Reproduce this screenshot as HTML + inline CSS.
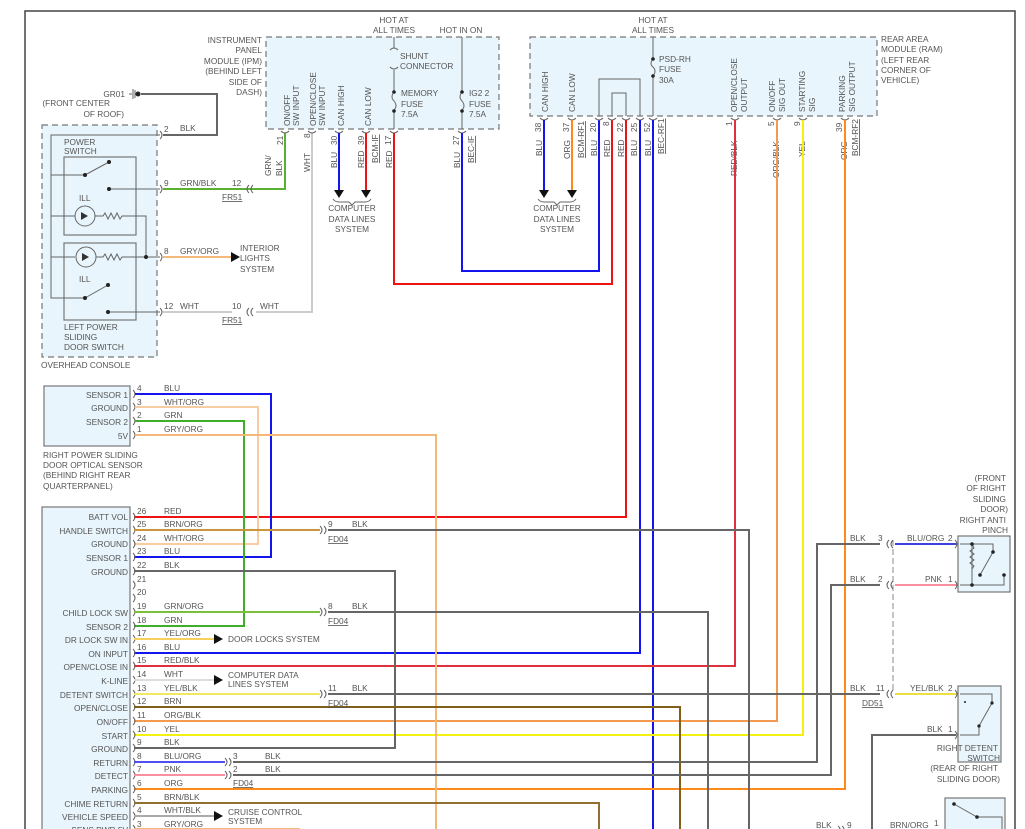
<!DOCTYPE html>
<html><head><meta charset="utf-8">
<style>
html,body{margin:0;padding:0;background:#fff;}
svg{display:block;font-family:"Liberation Sans",sans-serif;}
text{font-size:8.3px;fill:#555;}
.r{text-anchor:end}
.m{text-anchor:middle}
.g{stroke:#666;stroke-width:2;fill:none}
.k{stroke:#555;stroke-width:1.2;fill:none}
.box{fill:#e8f5fc;stroke:#777;stroke-width:1.2}
.dbox{fill:#e8f5fc;stroke:#777;stroke-width:1.2;stroke-dasharray:6,4}
.w{stroke-width:2;fill:none}
.c{stroke:#666;stroke-width:1;fill:none}
</style></head><body>
<svg width="1025" height="829" viewBox="0 0 1025 829">
<!-- frame -->
<path d="M25,829 V11 H1015 V829" stroke="#444" stroke-width="1.5" fill="none"/>

<!-- OVERHEAD CONSOLE -->
<rect x="42" y="125" width="115" height="232" class="dbox"/>
<text x="41" y="368">OVERHEAD CONSOLE</text>
<rect x="64" y="157" width="72" height="78" class="box"/>
<rect x="64" y="243" width="72" height="77" class="box"/>
<text x="64" y="145">POWER</text><text x="64" y="154">SWITCH</text>
<text x="79" y="201">ILL</text><text x="79" y="282">ILL</text>
<text x="64" y="330">LEFT POWER</text><text x="64" y="340">SLIDING</text><text x="64" y="350">DOOR SWITCH</text>
<path class="c" d="M160,135 H51 V298 H85 M51,175 H85 M51,216 H75 M51,257 H75"/>
<path class="c" d="M85,175 L109,162 M109,189 H160 M85,298 L108,285 M108,312 H160"/>
<circle cx="85" cy="216" r="10" class="c"/><circle cx="86" cy="257" r="10" class="c"/>
<path class="c" d="M95,216 H103 l2,-3 l3,6 l3,-6 l3,6 l3,-6 l3,6 l2,-3 H146 V257 H160 M96,257 H103 l2,-3 l3,6 l3,-6 l3,6 l3,-6 l3,6 l2,-3 H146"/>
<path d="M81,212 v8 l7,-4z M82,253 v8 l7,-4z" fill="#333"/>
<circle cx="85" cy="175" r="2" fill="#222"/><circle cx="109" cy="162" r="2" fill="#222"/><circle cx="109" cy="189" r="2" fill="#222"/>
<circle cx="85" cy="298" r="2" fill="#222"/><circle cx="108" cy="285" r="2" fill="#222"/><circle cx="108" cy="312" r="2" fill="#222"/>
<circle cx="146" cy="257" r="2" fill="#222"/>
<!-- console pins -->
<g class="c"><path d="M160,131 q4,4 0,8 M160,185 q4,4 0,8 M160,253 q4,4 0,8 M160,308 q4,4 0,8"/></g>
<text x="164" y="132">2</text><text x="164" y="186">9</text><text x="164" y="254">8</text><text x="164" y="309">12</text>
<!-- GR01 -->
<text x="125" y="97" class="r">GR01</text>
<text x="110" y="106" class="r">(FRONT CENTER</text><text x="124" y="117" class="r">OF ROOF)</text>
<path class="c" d="M129,94 h3 M133,89 v10 M135,90 v8"/><circle cx="138" cy="94" r="2.5" fill="#222"/>
<path class="g" d="M141,94 H217 V135 H163"/>
<text x="180" y="131">BLK</text>
<!-- GRN/BLK -->
<path class="w" stroke="#5ab031" d="M163,189 H285 V133"/>
<text x="180" y="186">GRN/BLK</text><text x="232" y="186">12</text>
<path class="c" d="M249,185 q-4,4 0,8 M253,185 q-4,4 0,8"/>
<text x="222" y="200" style="text-decoration:underline">FR51</text>
<!-- GRY/ORG -->
<path class="w" stroke="#f4b87a" d="M163,257 H232"/>
<path d="M231,252 v10 l9,-5z" fill="#111"/>
<text x="180" y="254">GRY/ORG</text>
<text x="240" y="251">INTERIOR</text><text x="240" y="261">LIGHTS</text><text x="240" y="272">SYSTEM</text>
<!-- WHT -->
<path class="w" stroke="#ccc" d="M163,312 H232 M256,312 H312 V133"/>
<text x="180" y="309">WHT</text><text x="232" y="309">10</text><text x="260" y="309">WHT</text>
<path class="c" d="M249,308 q-4,4 0,8 M253,308 q-4,4 0,8"/>
<text x="222" y="323" style="text-decoration:underline">FR51</text>
<text x="271" y="176" transform="rotate(-90 271 176)">GRN/</text>
<text x="282" y="176" transform="rotate(-90 282 176)">BLK</text>
<text x="310" y="172" transform="rotate(-90 310 172)">WHT</text>

<!-- IPM -->
<rect x="266" y="37" width="233" height="92" class="dbox"/>
<g class="r"><text x="262" y="43">INSTRUMENT</text><text x="262" y="53">PANEL</text><text x="262" y="64">MODULE (IPM)</text><text x="262" y="74">(BEHIND LEFT</text><text x="262" y="85">SIDE OF</text><text x="262" y="95">DASH)</text></g>
<text x="394" y="23" class="m">HOT AT</text><text x="394" y="33" class="m">ALL TIMES</text>
<text x="461" y="33" class="m">HOT IN ON</text>
<g transform="rotate(-90)">
<text x="-126" y="290">ON/OFF</text><text x="-126" y="299">SW INPUT</text>
<text x="-126" y="316">OPEN/CLOSE</text><text x="-126" y="325">SW INPUT</text>
<text x="-126" y="344">CAN HIGH</text><text x="-126" y="371">CAN LOW</text>
</g>
<path class="c" d="M394,37 V48 M390,50 q4,-4 8,0 M390,67 q4,4 8,0 M394,70 V92 M394,92 q-4,5 0,9 q4,5 0,9 M394,111 V129 M462,37 V92 q-4,5 0,9 q4,5 0,9 V129"/>
<circle cx="394" cy="92" r="1.8" fill="#222"/><circle cx="394" cy="111" r="1.8" fill="#222"/>
<circle cx="462" cy="92" r="1.8" fill="#222"/><circle cx="462" cy="111" r="1.8" fill="#222"/>
<text x="400" y="59">SHUNT</text><text x="400" y="69">CONNECTOR</text>
<text x="401" y="96">MEMORY</text><text x="401" y="107">FUSE</text><text x="401" y="117">7.5A</text>
<text x="469" y="96">IG2 2</text><text x="469" y="107">FUSE</text><text x="469" y="117">7.5A</text>
<path class="c" d="M281,131 q4,4 8,0 M308,131 q4,4 8,0 M335,131 q4,4 8,0 M362,131 q4,4 8,0 M390,131 q4,4 8,0 M458,131 q4,4 8,0"/>
<g transform="rotate(-90)">
<text x="-145" y="283">21</text><text x="-138" y="310">8</text><text x="-145" y="337">30</text><text x="-145" y="364">39</text><text x="-145" y="391">17</text><text x="-145" y="459">27</text>
<text x="-168" y="337">BLU</text><text x="-168" y="364">RED</text><text x="-168" y="392">RED</text><text x="-168" y="460">BLU</text>
<text x="-163" y="378" style="text-decoration:underline">BCM-IF</text>
<text x="-163" y="474" style="text-decoration:underline">BEC-IF</text>
</g>
<path class="w" stroke="#1414ee" d="M339,133 V190"/><path class="w" stroke="#ee1212" d="M366,133 V190"/>
<path d="M334,190 h10 l-5,8z M361,190 h10 l-5,8z" fill="#111"/>
<path class="c" d="M333,199 q2,3 6,3 h10 l3,3 l3,-3 h10 q4,0 6,-3"/>
<text x="352" y="211" class="m">COMPUTER</text><text x="352" y="222" class="m">DATA LINES</text><text x="352" y="232" class="m">SYSTEM</text>
<path class="w" stroke="#ee1212" d="M394,133 V284 H612 V120"/>
<path class="w" stroke="#1414ee" d="M462,133 V271 H599 V120"/>

<!-- RAM -->
<rect x="530" y="37" width="347" height="79" class="dbox"/>
<g><text x="881" y="42">REAR AREA</text><text x="881" y="52">MODULE (RAM)</text><text x="881" y="63">(LEFT REAR</text><text x="881" y="73">CORNER OF</text><text x="881" y="83">VEHICLE)</text></g>
<text x="653" y="23" class="m">HOT AT</text><text x="653" y="33" class="m">ALL TIMES</text>
<path class="c" d="M653,37 V59 q-4,5 0,8 q4,4 0,9 V116 M599,116 V79 H640 V116 M612,116 V93 H626 V116"/>
<circle cx="653" cy="59" r="1.8" fill="#222"/><circle cx="653" cy="76" r="1.8" fill="#222"/>
<text x="659" y="62">PSD-RH</text><text x="659" y="72">FUSE</text><text x="659" y="83">30A</text>
<g transform="rotate(-90)">
<text x="-112" y="548">CAN HIGH</text><text x="-112" y="575">CAN LOW</text>
<text x="-112" y="737">OPEN/CLOSE</text><text x="-112" y="747">OUTPUT</text>
<text x="-112" y="775">ON/OFF</text><text x="-112" y="785">SIG OUT</text>
<text x="-112" y="805">STARTING</text><text x="-112" y="815">SIG</text>
<text x="-112" y="845">PARKING</text><text x="-112" y="855">SIG OUTPUT</text>
</g>
<path class="c" d="M540,118 q4,4 8,0 M568,118 q4,4 8,0 M595,118 q4,4 8,0 M608,118 q4,4 8,0 M622,118 q4,4 8,0 M636,118 q4,4 8,0 M649,118 q4,4 8,0 M731,118 q4,4 8,0 M773,118 q4,4 8,0 M799,118 q4,4 8,0 M841,118 q4,4 8,0"/>
<g transform="rotate(-90)">
<text x="-132" y="541">38</text><text x="-132" y="569">37</text><text x="-132" y="596">20</text><text x="-126" y="609">8</text><text x="-132" y="623">22</text><text x="-132" y="637">25</text><text x="-132" y="650">52</text><text x="-126" y="732">1</text><text x="-126" y="774">5</text><text x="-126" y="800">9</text><text x="-132" y="842">39</text>
<text x="-156" y="542">BLU</text><text x="-159" y="570">ORG</text><text x="-156" y="597">BLU</text><text x="-157" y="610">RED</text><text x="-157" y="624">RED</text><text x="-156" y="637">BLU</text><text x="-156" y="651">BLU</text>
<text x="-176" y="737">RED/BLK</text><text x="-178" y="779">ORG/BLK</text><text x="-157" y="805">YEL</text><text x="-160" y="847">ORG</text>
<text x="-158" y="584" style="text-decoration:underline">BCM-RF1</text>
<text x="-154" y="664" style="text-decoration:underline">BEC-RF1</text>
<text x="-156" y="858" style="text-decoration:underline">BCM-RF2</text>
</g>
<path class="w" stroke="#1414ee" d="M544,120 V190"/><path class="w" stroke="#ff8a1c" d="M572,120 V190"/>
<path d="M539,190 h10 l-5,8z M567,190 h10 l-5,8z" fill="#111"/>
<path class="c" d="M538,199 q2,3 6,3 h10 l3,3 l3,-3 h10 q4,0 6,-3"/>
<text x="557" y="211" class="m">COMPUTER</text><text x="557" y="222" class="m">DATA LINES</text><text x="557" y="232" class="m">SYSTEM</text>

<!-- long wires -->
<path class="w" stroke="#ee1212" d="M626,120 V517 H134"/>
<path class="w" stroke="#1414ee" d="M640,120 V653 H134"/>
<path class="w" stroke="#1414ee" d="M653,120 V829"/>
<path class="w" stroke="#e03040" d="M735,120 V666 H134"/>
<path class="w" stroke="#f49a50" d="M777,120 V721 H134"/>
<path class="w" stroke="#f4f010" d="M803,120 V735 H134"/>
<path class="w" stroke="#ff8a1c" d="M845,120 V789 H134"/>

<!-- optical sensor -->
<rect x="44" y="386" width="86" height="60" class="box"/>
<g class="r"><text x="128" y="398">SENSOR 1</text><text x="128" y="411">GROUND</text><text x="128" y="425">SENSOR 2</text><text x="128" y="439">5V</text></g>
<g><text x="43" y="458">RIGHT POWER SLIDING</text><text x="43" y="468">DOOR OPTICAL SENSOR</text><text x="43" y="478">(BEHIND RIGHT REAR</text><text x="43" y="489">QUARTERPANEL)</text></g>
<path class="c" d="M133,390 q4,4 0,8 M133,403 q4,4 0,8 M133,417 q4,4 0,8 M133,431 q4,4 0,8"/>
<text x="137" y="391">4</text><text x="137" y="405">3</text><text x="137" y="418">2</text><text x="137" y="432">1</text>
<text x="164" y="391">BLU</text><text x="164" y="405">WHT/ORG</text><text x="164" y="418">GRN</text><text x="164" y="432">GRY/ORG</text>
<path class="w" stroke="#1414ee" d="M135,394 H271 V557 H134"/>
<path class="w" stroke="#f8cba0" d="M135,407 H258 V544 H134"/>
<path class="w" stroke="#3fae2a" d="M135,421 H244 V626 H134"/>
<path class="w" stroke="#f4b87a" d="M135,435 H436 V829"/>

<!-- main module -->
<rect x="42" y="507" width="88" height="330" class="box"/>
<g class="r">
<text x="128" y="520">BATT VOL</text><text x="128" y="534">HANDLE SWITCH</text><text x="128" y="547">GROUND</text><text x="128" y="561">SENSOR 1</text><text x="128" y="575">GROUND</text>
<text x="128" y="616">CHILD LOCK SW</text><text x="128" y="630">SENSOR 2</text><text x="128" y="643">DR LOCK SW IN</text><text x="128" y="657">ON INPUT</text><text x="128" y="670">OPEN/CLOSE IN</text>
<text x="128" y="684">K-LINE</text><text x="128" y="698">DETENT SWITCH</text><text x="128" y="711">OPEN/CLOSE</text><text x="128" y="725">ON/OFF</text><text x="128" y="739">START</text>
<text x="128" y="752">GROUND</text><text x="128" y="766">RETURN</text><text x="128" y="779">DETECT</text><text x="128" y="793">PARKING</text><text x="128" y="807">CHIME RETURN</text><text x="128" y="820">VEHICLE SPEED</text><text x="128" y="833">SENS PWR 5V</text>
</g>
<g class="c">
<path d="M133,513 q4,4 0,8 M133,526 q4,4 0,8 M133,540 q4,4 0,8 M133,553 q4,4 0,8 M133,567 q4,4 0,8 M133,581 q4,4 0,8 M133,594 q4,4 0,8 M133,608 q4,4 0,8 M133,622 q4,4 0,8 M133,635 q4,4 0,8 M133,649 q4,4 0,8 M133,662 q4,4 0,8 M133,676 q4,4 0,8 M133,690 q4,4 0,8 M133,703 q4,4 0,8 M133,717 q4,4 0,8 M133,731 q4,4 0,8 M133,744 q4,4 0,8 M133,758 q4,4 0,8 M133,771 q4,4 0,8 M133,785 q4,4 0,8 M133,799 q4,4 0,8 M133,812 q4,4 0,8 M133,825 q4,4 0,8"/>
</g>
<g>
<text x="137" y="514">26</text><text x="137" y="527">25</text><text x="137" y="541">24</text><text x="137" y="554">23</text><text x="137" y="568">22</text><text x="137" y="582">21</text><text x="137" y="595">20</text><text x="137" y="609">19</text><text x="137" y="623">18</text><text x="137" y="636">17</text><text x="137" y="650">16</text><text x="137" y="663">15</text><text x="137" y="677">14</text><text x="137" y="691">13</text><text x="137" y="704">12</text><text x="137" y="718">11</text><text x="137" y="732">10</text><text x="137" y="745">9</text><text x="137" y="759">8</text><text x="137" y="772">7</text><text x="137" y="786">6</text><text x="137" y="800">5</text><text x="137" y="813">4</text><text x="137" y="827">3</text>
<text x="164" y="514">RED</text><text x="164" y="527">BRN/ORG</text><text x="164" y="541">WHT/ORG</text><text x="164" y="554">BLU</text><text x="164" y="568">BLK</text><text x="164" y="609">GRN/ORG</text><text x="164" y="623">GRN</text><text x="164" y="636">YEL/ORG</text><text x="164" y="650">BLU</text><text x="164" y="663">RED/BLK</text><text x="164" y="677">WHT</text><text x="164" y="691">YEL/BLK</text><text x="164" y="704">BRN</text><text x="164" y="718">ORG/BLK</text><text x="164" y="732">YEL</text><text x="164" y="745">BLK</text><text x="164" y="759">BLU/ORG</text><text x="164" y="772">PNK</text><text x="164" y="786">ORG</text><text x="164" y="800">BRN/BLK</text><text x="164" y="813">WHT/BLK</text><text x="164" y="827">GRY/ORG</text>
</g>
<!-- module wires -->
<path class="w" stroke="#c9963c" d="M134,530 H320"/>
<path class="g" d="M328,530 H749 V829"/>
<path class="g" d="M134,571 H395 V748 H134"/>
<path class="w" stroke="#7bbf3a" d="M134,612 H320"/>
<path class="g" d="M328,612 H708 V829"/>
<path class="w" stroke="#f8d060" d="M134,639 H215"/><path d="M214,634 v10 l9,-5z" fill="#111"/>
<text x="228" y="642">DOOR LOCKS SYSTEM</text>
<path class="w" stroke="#ddd" d="M134,680 H215"/><path d="M214,675 v10 l9,-5z" fill="#111"/>
<text x="228" y="678">COMPUTER DATA</text><text x="228" y="687">LINES SYSTEM</text>
<path class="w" stroke="#f0e860" d="M134,694 H320"/>
<path class="g" d="M328,694 H880"/>
<path class="w" stroke="#806018" d="M134,707 H680 V829"/>
<path class="w" stroke="#5050f0" d="M134,762 H225"/>
<path class="g" d="M233,762 H817 V544 H880"/>
<path class="w" stroke="#f890a0" d="M134,775 H225"/>
<path class="g" d="M233,775 H831 V585 H880"/>
<path class="w" stroke="#907030" d="M134,803 H599 V829"/>
<path class="w" stroke="#aaa" d="M134,816 H215"/><path d="M214,811 v10 l9,-5z" fill="#111"/>
<text x="228" y="815">CRUISE CONTROL</text><text x="228" y="824">SYSTEM</text>
<path class="w" stroke="#f4b87a" d="M134,829 H300"/>
<!-- FD04 connectors -->
<path class="c" d="M320,526 q4,4 0,8 M324,526 q4,4 0,8 M320,608 q4,4 0,8 M324,608 q4,4 0,8 M320,690 q4,4 0,8 M324,690 q4,4 0,8 M225,758 q4,4 0,8 M229,758 q4,4 0,8 M225,771 q4,4 0,8 M229,771 q4,4 0,8"/>
<text x="328" y="527">9</text><text x="352" y="527">BLK</text><text x="328" y="542" style="text-decoration:underline">FD04</text>
<text x="328" y="609">8</text><text x="352" y="609">BLK</text><text x="328" y="624" style="text-decoration:underline">FD04</text>
<text x="328" y="691">11</text><text x="352" y="691">BLK</text><text x="328" y="706" style="text-decoration:underline">FD04</text>
<text x="233" y="759">3</text><text x="265" y="759">BLK</text>
<text x="233" y="772">2</text><text x="265" y="772">BLK</text><text x="233" y="786" style="text-decoration:underline">FD04</text>

<!-- right side -->
<path d="M893,540 V692" stroke="#888" stroke-width="1" stroke-dasharray="6,3" fill="none"/>
<path class="c" d="M889,540 q-4,4 0,8 M893,540 q-4,4 0,8 M889,581 q-4,4 0,8 M893,581 q-4,4 0,8 M889,690 q-4,4 0,8 M893,690 q-4,4 0,8"/>
<text x="850" y="541">BLK</text><text x="878" y="541">3</text>
<text x="850" y="582">BLK</text><text x="878" y="582">2</text>
<text x="850" y="691">BLK</text><text x="876" y="691">11</text>
<text x="862" y="706" style="text-decoration:underline">DD51</text>
<path class="w" stroke="#4040e0" d="M895,544 H958"/>
<path class="w" stroke="#f890a0" d="M895,585 H958"/>
<path class="w" stroke="#ece040" d="M895,694 H958"/>
<text x="907" y="541">BLU/ORG</text><text x="948" y="541">2</text>
<text x="925" y="582">PNK</text><text x="948" y="582">1</text>
<text x="910" y="691">YEL/BLK</text><text x="948" y="691">2</text>
<g class="r"><text x="1006" y="481">(FRONT</text><text x="1006" y="491">OF RIGHT</text><text x="1006" y="502">SLIDING</text><text x="1008" y="512">DOOR)</text><text x="1006" y="523">RIGHT ANTI</text><text x="1008" y="533">PINCH</text></g>
<rect x="958" y="536" width="52" height="56" class="box"/>
<path class="c" d="M955,540 q4,4 0,8 M955,581 q4,4 0,8 M960,544 H972 V585 H960 M972,544 l2,4 l-4,3 l4,3 l-4,3 l4,3 l-4,3 l4,3 l-2,3 M972,585 H1004 V575 M980,575 L993,552 V544 H972"/>
<circle cx="972" cy="544" r="1.8" fill="#222"/><circle cx="993" cy="552" r="1.8" fill="#222"/><circle cx="980" cy="575" r="1.8" fill="#222"/><circle cx="972" cy="585" r="1.8" fill="#222"/><circle cx="1004" cy="575" r="1.8" fill="#222"/>
<rect x="958" y="686" width="43" height="76" class="box"/>
<path class="c" d="M955,690 q4,4 0,8 M955,731 q4,4 0,8 M960,694 H992 V703 L979,726 V735 H960"/>
<circle cx="992" cy="703" r="1.6" fill="#222"/><circle cx="979" cy="726" r="1.6" fill="#222"/><circle cx="965" cy="702" r="1" fill="#222"/>
<path class="g" d="M872,829 V735 H956"/>
<text x="927" y="732">BLK</text><text x="948" y="732">1</text>
<g class="r"><text x="998" y="751">RIGHT DETENT</text><text x="1000" y="761">SWITCH</text><text x="998" y="771">(REAR OF RIGHT</text><text x="1000" y="782">SLIDING DOOR)</text></g>
<rect x="945" y="798" width="60" height="40" class="box"/>
<path class="c" d="M954,804 L977,817 H1002 V829"/>
<circle cx="954" cy="804" r="1.8" fill="#222"/><circle cx="977" cy="817" r="1.8" fill="#222"/>
<text x="816" y="828">BLK</text><text x="847" y="828">9</text>
<path class="c" d="M838,826 q4,3 0,6 M842,826 q4,3 0,6"/>
<text x="890" y="828">BRN/ORG</text><text x="934" y="826">1</text>
</svg>
</body></html>
